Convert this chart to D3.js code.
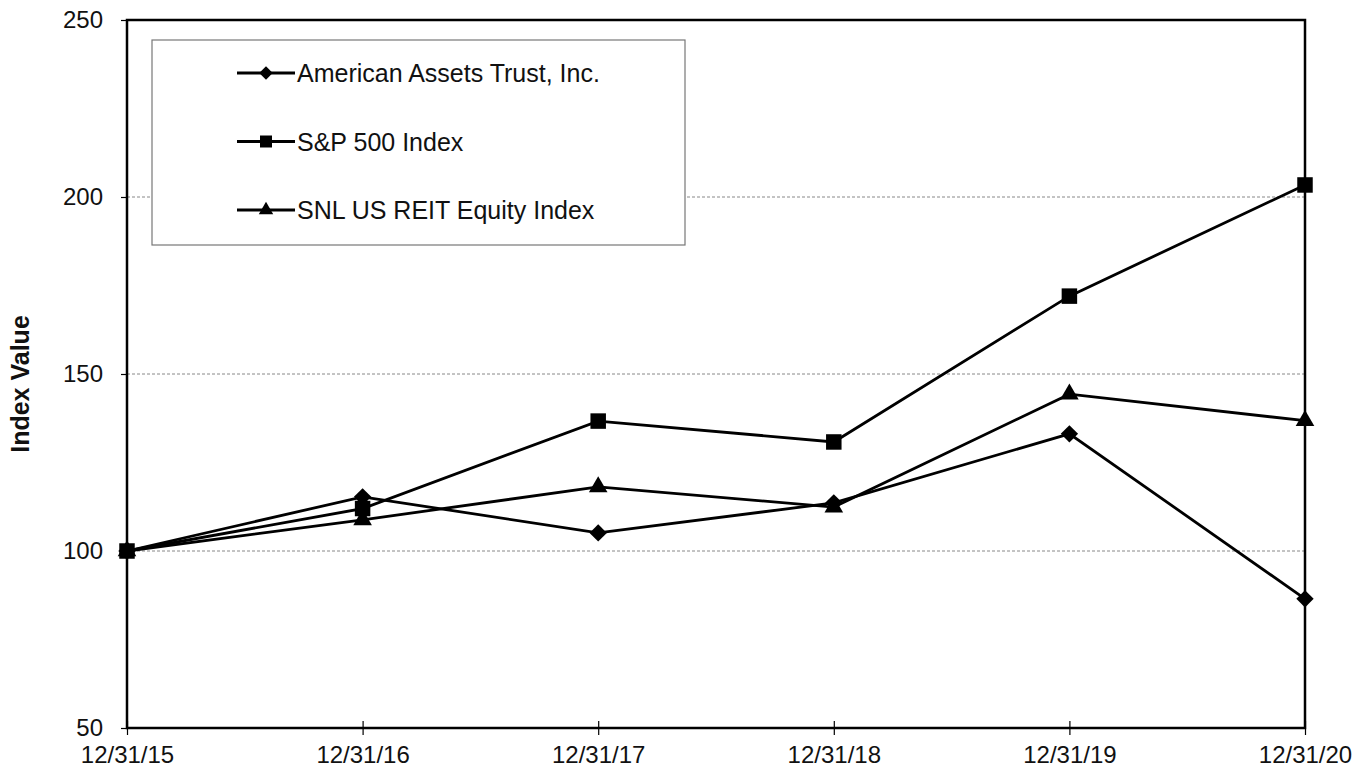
<!DOCTYPE html>
<html>
<head>
<meta charset="utf-8">
<script src="https://cdn.jsdelivr.net/npm/d3@7"></script>
<style>
  body { margin: 0; background: #fff; }
  text { font-family: "Liberation Sans", Arial, sans-serif; fill: #111; }
</style>
</head>
<body>
<div id="chart"></div>
<script>
// data
let dates = ["12/31/15", "12/31/16", "12/31/17", "12/31/18", "12/31/19", "12/31/20"];
let aat = [100, 115.3, 105.1, 113.6, 133.1, 86.5];
let sp500 = [100, 112.0, 136.7, 130.8, 172.0, 203.4];
let reit = [100, 108.8, 118.1, 112.4, 144.3, 136.8];
let yTicks = [50, 100, 150, 200, 250];
let seriesNames = ["American Assets Trust, Inc.", "S&P 500 Index", "SNL US REIT Equity Index"];

let margin = {top: 20, right: 64, bottom: 43, left: 127};
let width = 1369 - margin.left - margin.right;
let height = 771 - margin.top - margin.bottom;

let svg = d3.select("#chart")
    .append("svg")
        .attr("width", 1369)
        .attr("height", 771)
    .append("g")
        .attr("transform", "translate(" + margin.left + "," + margin.top + ")");

// scales
let x = d3.scalePoint()
    .domain(dates)
    .range([0, width]);

let y = d3.scaleLinear()
    .domain([50, 250])
    .range([height, 0]);

// gridlines
svg.selectAll(".grid")
    .data([100, 150, 200])
    .enter()
    .append("line")
    .attr("x1", 0)
    .attr("x2", width)
    .attr("y1", function(d) { return y(d); })
    .attr("y2", function(d) { return y(d); })
    .attr("stroke", "#888")
    .attr("stroke-width", 1)
    .attr("stroke-dasharray", "3,2");

// frame
svg.append("rect")
    .attr("x", 0)
    .attr("y", 0)
    .attr("width", width)
    .attr("height", height)
    .attr("fill", "none")
    .attr("stroke", "#000")
    .attr("stroke-width", 2.5);

// Y axis
let yAxis = svg.append("g")
    .call(d3.axisLeft(y).tickValues(yTicks).tickSize(6).tickPadding(18));
yAxis.select(".domain").remove();
yAxis.selectAll("line").attr("stroke", "#000").attr("stroke-width", 1.2);
yAxis.selectAll("text")
    .style("font-size", "24px")
    .style("font-family", "Liberation Sans, Arial, sans-serif")
    .attr("fill", "#111");

// X axis
let xAxis = svg.append("g")
    .attr("transform", "translate(0," + height + ")")
    .call(d3.axisBottom(x).tickSizeInner(7).tickSizeOuter(0).tickPadding(11));
xAxis.select(".domain").remove();
xAxis.selectAll("line")
    .attr("y1", -7)
    .attr("stroke", "#000")
    .attr("stroke-width", 1.2);
xAxis.selectAll("text")
    .style("font-size", "24px")
    .style("font-family", "Liberation Sans, Arial, sans-serif")
    .attr("fill", "#111");

// Y axis label
svg.append("text")
    .attr("text-anchor", "middle")
    .attr("transform", "rotate(-90)")
    .attr("x", -(y(150) + 10))
    .attr("y", -margin.left + 29)
    .style("font-size", "25px")
    .style("font-weight", "bold")
    .text("Index Value");

// lines + markers
let diamond = {
    draw: function(ctx, size) {
        let r = Math.sqrt(size / 2);
        ctx.moveTo(0, -r); ctx.lineTo(r, 0); ctx.lineTo(0, r); ctx.lineTo(-r, 0); ctx.closePath();
    }
};

let allSeries = [
    {name: seriesNames[0], values: aat, symbol: diamond, size: 150},
    {name: seriesNames[1], values: sp500, symbol: d3.symbolSquare, size: 240},
    {name: seriesNames[2], values: reit, symbol: d3.symbolTriangle, size: 150}
];

let line = d3.line()
    .x(function(d, i) { return x(dates[i]); })
    .y(function(d) { return y(d); });

allSeries.forEach(function(s) {
    svg.append("path")
        .datum(s.values)
        .attr("d", line)
        .attr("fill", "none")
        .attr("stroke", "#000")
        .attr("stroke-width", 2.8);
});

allSeries.forEach(function(s) {
    svg.selectAll(null)
        .data(s.values)
        .enter()
        .append("path")
        .attr("d", d3.symbol().type(s.symbol).size(s.size))
        .attr("transform", function(d, i) { return "translate(" + x(dates[i]) + "," + y(d) + ")"; })
        .attr("fill", "#000");
});

// legend
let legend = svg.append("g")
    .attr("transform", "translate(" + (152 - margin.left) + "," + (40 - margin.top) + ")");

legend.append("rect")
    .attr("width", 533)
    .attr("height", 205)
    .attr("fill", "#fff")
    .attr("stroke", "#777")
    .attr("stroke-width", 1.2);

let entry = legend.selectAll(".entry")
    .data(allSeries)
    .enter()
    .append("g")
    .attr("transform", function(d, i) { return "translate(0," + (33 + i * 68.5) + ")"; });

entry.append("line")
    .attr("x1", 85)
    .attr("x2", 143)
    .attr("stroke", "#000")
    .attr("stroke-width", 2.8);

entry.append("path")
    .attr("d", function(d) { return d3.symbol().type(d.symbol).size(d.size * 0.6)(); })
    .attr("transform", "translate(114,0)")
    .attr("fill", "#000");

entry.append("text")
    .attr("x", 145)
    .attr("dy", "0.36em")
    .style("font-size", "25px")
    .text(function(d) { return d.name; });
</script>
</body>
</html>
